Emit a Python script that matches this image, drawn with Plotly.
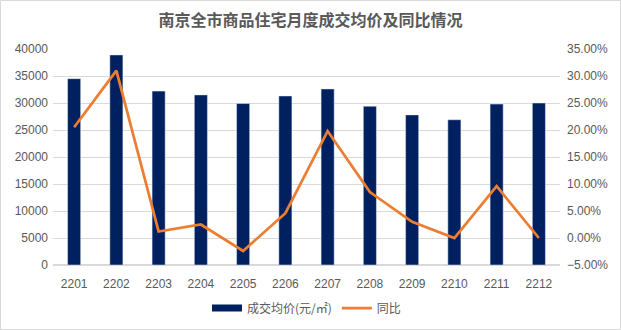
import plotly.graph_objects as go

months = ["2201", "2202", "2203", "2204", "2205", "2206", "2207", "2208", "2209", "2210", "2211", "2212"]
avg_price = [34500, 38900, 32200, 31500, 29900, 31300, 32600, 29400, 27800, 26900, 29800, 30000]
yoy = [0.205, 0.310, 0.012, 0.025, -0.024, 0.046, 0.198, 0.085, 0.030, 0.000, 0.096, 0.000]

W, H = 621, 330
ml, mr, mt, mb = 53, 61, 49, 65
pw, ph = W - ml - mr, H - mt - mb

txt = "#595959"
font_cjk = "Noto Sans CJK SC, Microsoft YaHei, sans-serif"
font_num = "Liberation Sans, Arial, sans-serif"

fig = go.Figure()
fig.add_trace(go.Bar(x=months, y=avg_price, name="成交均价(元/㎡)", marker_color="#002060",
                     width=0.31, yaxis="y", showlegend=False))
# legend swatch for the bars (wide rectangle like the original)
fig.add_trace(go.Scatter(x=[None], y=[None], name="成交均价(元/㎡)", mode="lines",
                         line=dict(color="#002060", width=7), yaxis="y"))
fig.add_trace(go.Scatter(x=months, y=yoy, name="同比", mode="lines",
                         line=dict(color="#ED7D31", width=2.75), yaxis="y2"))

fig.update_layout(
    width=W, height=H,
    margin=dict(l=ml, r=mr, t=mt, b=mb, autoexpand=False),
    paper_bgcolor="white", plot_bgcolor="white",
    title=dict(text="<b>南京全市商品住宅月度成交均价及同比情况</b>", x=0.5, xanchor="center",
               y=1 - 20 / H, yanchor="middle",
               font=dict(size=16, color=txt, family=font_cjk)),
    font=dict(family=font_cjk, color=txt, size=12),
    xaxis=dict(type="category", showgrid=False, showline=False, ticks="", ticklabelstandoff=10,
               automargin=False, tickfont=dict(size=12, color=txt, family=font_num)),
    yaxis=dict(range=[0, 40000], dtick=5000, tickformat="d", showgrid=True, gridcolor="#d9d9d9",
               gridwidth=1, zeroline=True, zerolinecolor="#d9d9d9", showline=False, ticks="",
               ticklabelstandoff=4, automargin=False,
               tickfont=dict(size=12, color=txt, family=font_num)),
    yaxis2=dict(range=[-0.05, 0.35], dtick=0.05, tickformat=".2%", overlaying="y", side="right",
                showgrid=False, zeroline=False, showline=False, ticks="", ticklabelstandoff=6,
                automargin=False, tickfont=dict(size=12, color=txt, family=font_num)),
    legend=dict(orientation="h", x=0.5, xanchor="center", yref="container",
                y=1 - 308 / H, yanchor="middle",
                font=dict(size=12, color=txt, family=font_cjk), bgcolor="rgba(0,0,0,0)",
                itemwidth=30),
    showlegend=True,
)

fig.add_shape(type="rect", xref="paper", yref="paper",
              x0=(-ml + 0.5) / pw, x1=1 + (mr - 0.5) / pw,
              y0=(-mb + 0.5) / ph, y1=1 + (mt - 0.5) / ph,
              line=dict(color="#d9d9d9", width=1), fillcolor="rgba(0,0,0,0)", layer="below")

fig.write_html("out.html")
